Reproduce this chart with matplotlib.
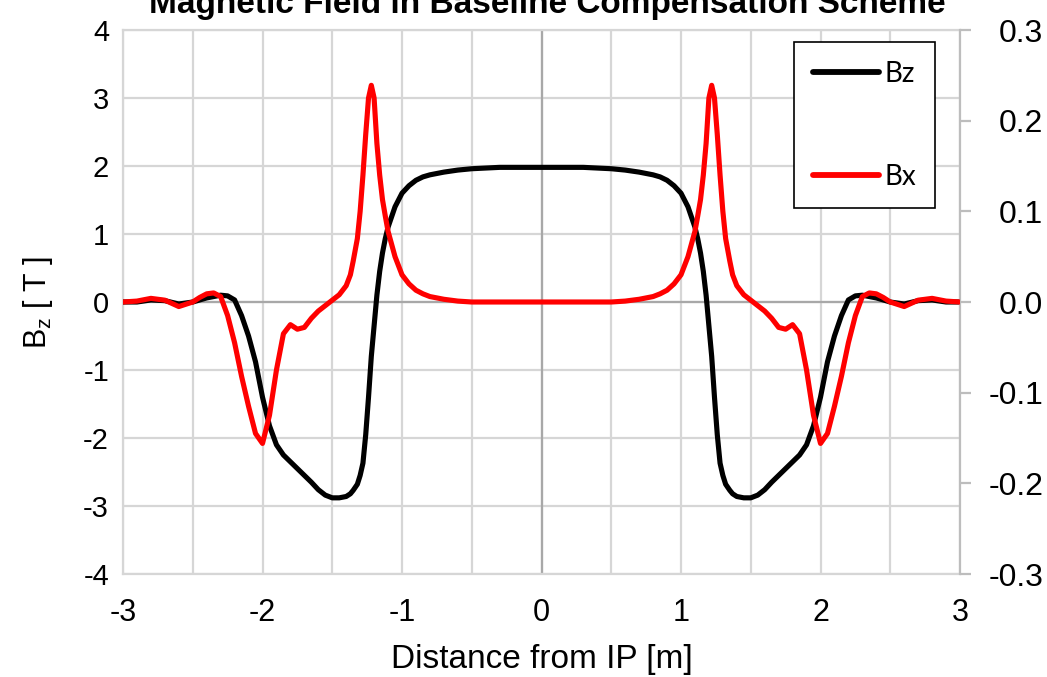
import matplotlib
matplotlib.use("Agg")
import matplotlib.pyplot as plt
from matplotlib.lines import Line2D

plt.rcParams['font.family'] = ['Liberation Sans', 'DejaVu Sans']
plt.rcParams['axes.unicode_minus'] = False
plt.rcParams['mathtext.fontset'] = 'custom'
plt.rcParams['mathtext.rm'] = 'Liberation Sans'

title = "Magnetic Field in Baseline Compensation Scheme"
x_label = "Distance from IP [m]"
y_label = r"B$_\mathrm{z}$ [ T ]"
series_names = ["Bz", "Bx"]
x_ticks = [-3, -2, -1, 0, 1, 2, 3]
y_ticks_left = [-4, -3, -2, -1, 0, 1, 2, 3, 4]
y_ticks_right = [-0.3, -0.2, -0.1, 0.0, 0.1, 0.2, 0.3]

# distance from IP [m]
x_pos = [-3.0, -2.9, -2.8, -2.7, -2.6, -2.5, -2.45, -2.4, -2.35, -2.3, -2.25, -2.2,
         -2.15, -2.1, -2.05, -2.0, -1.95, -1.9, -1.85, -1.8, -1.75, -1.7, -1.65, -1.6,
         -1.55, -1.5, -1.45, -1.4, -1.37, -1.35, -1.32, -1.3, -1.28, -1.26, -1.24, -1.22,
         -1.2, -1.18, -1.16, -1.14, -1.12, -1.1, -1.05, -1.0, -0.95, -0.9, -0.85, -0.8,
         -0.7, -0.6, -0.5, -0.4, -0.3, -0.2, -0.1, 0.0,
         0.1, 0.2, 0.3, 0.4, 0.5, 0.6, 0.7, 0.8, 0.85, 0.9, 0.95, 1.0, 1.05, 1.1, 1.12,
         1.14, 1.16, 1.18, 1.2, 1.22, 1.24, 1.26, 1.28, 1.3, 1.32, 1.35, 1.37, 1.4, 1.45,
         1.5, 1.55, 1.6, 1.65, 1.7, 1.75, 1.8, 1.85, 1.9, 1.95, 2.0, 2.05, 2.1, 2.15, 2.2,
         2.25, 2.3, 2.35, 2.4, 2.45, 2.5, 2.6, 2.7, 2.8, 2.9, 3.0]

# Bz [T] (left axis)
bz = [0.0, 0.0, 0.03, 0.02, -0.03, 0.0, 0.03, 0.06, 0.08, 0.1, 0.09, 0.03,
      -0.2, -0.5, -0.88, -1.4, -1.82, -2.1, -2.25, -2.35, -2.45, -2.55, -2.65, -2.76,
      -2.84, -2.88, -2.88, -2.86, -2.82, -2.77, -2.68, -2.55, -2.37, -1.95, -1.4, -0.8,
      -0.35, 0.1, 0.45, 0.72, 0.93, 1.1, 1.4, 1.6, 1.71, 1.79, 1.84, 1.87,
      1.91, 1.94, 1.96, 1.97, 1.98, 1.98, 1.98, 1.98,
      1.98, 1.98, 1.98, 1.97, 1.96, 1.94, 1.91, 1.87, 1.84, 1.79, 1.71, 1.6, 1.4, 1.1, 0.93,
      0.72, 0.45, 0.1, -0.35, -0.8, -1.4, -1.95, -2.37, -2.55, -2.68, -2.77, -2.82, -2.86, -2.88,
      -2.88, -2.84, -2.76, -2.65, -2.55, -2.45, -2.35, -2.25, -2.1, -1.82, -1.4, -0.88, -0.5, -0.2, 0.03,
      0.09, 0.1, 0.08, 0.06, 0.03, 0.0, -0.03, 0.02, 0.03, 0.0, 0.0]

# Bx [T] (right axis)
bx = [0.0, 0.001, 0.004, 0.002, -0.005, 0.0, 0.005, 0.009, 0.01, 0.006, -0.015, -0.045,
      -0.082, -0.115, -0.145, -0.156, -0.125, -0.075, -0.035, -0.025, -0.03, -0.028, -0.018, -0.01,
      -0.004, 0.002, 0.008, 0.018, 0.03, 0.045, 0.07, 0.1, 0.14, 0.185, 0.225, 0.239,
      0.225, 0.175, 0.14, 0.113, 0.095, 0.078, 0.05, 0.03, 0.02, 0.013, 0.009, 0.006,
      0.003, 0.001, 0.0, 0.0, 0.0, 0.0, 0.0, 0.0,
      0.0, 0.0, 0.0, 0.0, 0.0, 0.001, 0.003, 0.006, 0.009, 0.013, 0.02, 0.03, 0.05, 0.078, 0.095,
      0.113, 0.14, 0.175, 0.225, 0.239, 0.225, 0.185, 0.14, 0.1, 0.07, 0.045, 0.03, 0.018, 0.008,
      0.002, -0.004, -0.01, -0.018, -0.028, -0.03, -0.025, -0.035, -0.075, -0.125, -0.156, -0.145, -0.115, -0.082, -0.045,
      -0.015, 0.006, 0.01, 0.009, 0.005, 0.0, -0.005, 0.002, 0.004, 0.001, 0.0]

W, H = 1047, 677
fig = plt.figure(figsize=(W / 100, H / 100), dpi=100)
ax = fig.add_axes([123 / W, 1 - 574 / H, (960 - 123) / W, (574 - 30) / H])
ax2 = ax.twinx()

grid_c = '#d6d6d6'
ax.set_xlim(-3, 3)
ax.set_ylim(-4, 4)
ax.set_xticks(x_ticks)
ax.set_xticks([-2.5, -1.5, -0.5, 0.5, 1.5, 2.5], minor=True)
ax.set_yticks(y_ticks_left)
ax.grid(True, which='both', axis='x', color=grid_c, lw=1.6)
ax.grid(True, which='major', axis='y', color=grid_c, lw=1.6)
ax.axhline(0, color='#a8a8a8', lw=1.6, zorder=1)
ax.axvline(0, color='#a8a8a8', lw=1.6, zorder=1)
ax.set_axisbelow(True)
ax.tick_params(axis='x', which='both', length=0, labelsize=22, pad=17, colors='black')
ax.tick_params(axis='y', which='both', length=0, labelsize=21, pad=10, colors='black')
for s in ['left', 'bottom', 'top']:
    ax.spines[s].set_color(grid_c)
    ax.spines[s].set_linewidth(1.6)
ax.spines['right'].set_visible(False)

ax2.set_ylim(-0.3, 0.3)
ax2.set_yticks(y_ticks_right)
ax2.set_yticklabels([f"{v:.1f}" for v in y_ticks_right], ha='right')
ax2.tick_params(axis='y', length=8, width=1.6, color='#bdbdbd', labelsize=23, pad=52)
ax2.spines['right'].set_color('#bdbdbd')
ax2.spines['right'].set_linewidth(1.6)
for s in ['left', 'bottom', 'top']:
    ax2.spines[s].set_visible(False)

ax.plot(x_pos, bz, color='black', lw=3.7, solid_capstyle='round', solid_joinstyle='round', zorder=3)
ax2.plot(x_pos, bx, color='#ff0000', lw=3.7, solid_capstyle='round', solid_joinstyle='round', zorder=3)

ax.set_xlabel(x_label, fontsize=24, labelpad=12)
ax.set_ylabel(y_label, fontsize=22, labelpad=20)

fig.text(547 / W, 1 - 13 / H, title, ha='center', va='baseline', fontsize=24, fontweight='bold')

handles = [Line2D([], [], color='black', lw=4.2, solid_capstyle='round'),
           Line2D([], [], color='#ff0000', lw=4.2, solid_capstyle='round')]
leg = ax2.legend(handles, series_names, loc='upper left',
                 bbox_to_anchor=((794 - 123) / (960 - 123), 1 - (42 - 30) / (574 - 30)),
                 frameon=True, fancybox=False, edgecolor='black', framealpha=1,
                 prop={'family': 'Lato', 'size': 20}, handlelength=2.4, handletextpad=0.2,
                 labelspacing=2.78, borderpad=0.67, borderaxespad=0)
leg.get_frame().set_linewidth(1.2)

fig.savefig('out.png', dpi=100)
